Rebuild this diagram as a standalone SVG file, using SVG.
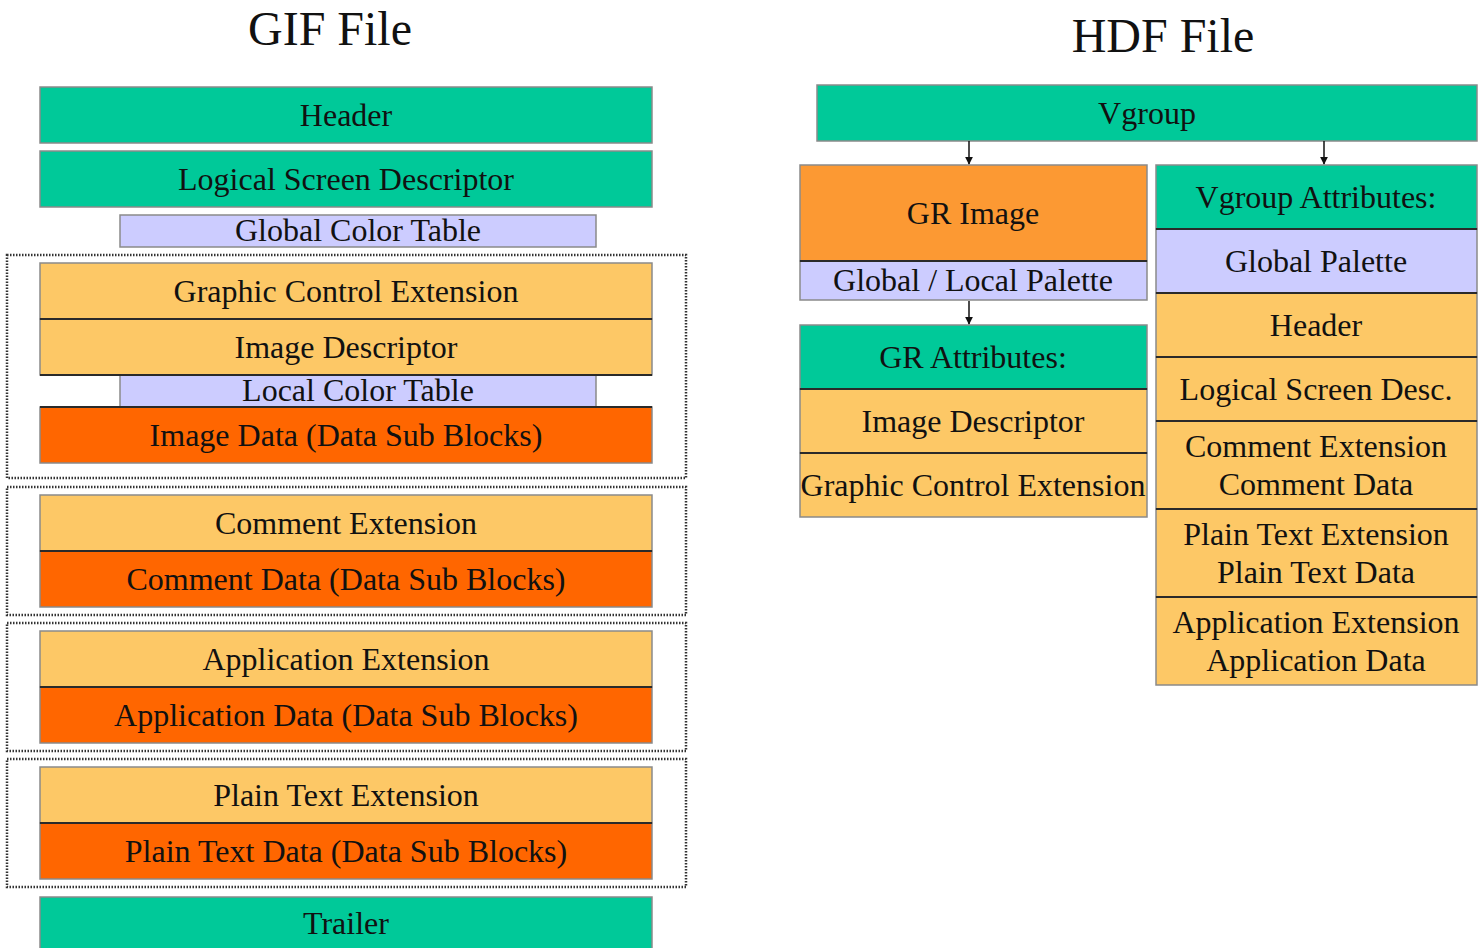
<svg xmlns="http://www.w3.org/2000/svg" width="1483" height="948" viewBox="0 0 1483 948">
<defs>
<style>
text{font-family:"Liberation Serif","Times New Roman",serif;fill:#111;text-anchor:middle}
.t{font-size:32px}
.title{font-size:48px}
.box{stroke:#8a8a8a;stroke-width:1.5}
.teal{fill:#00C999}
.gold{fill:#FDC866}
.red{fill:#FF6600}
.org{fill:#FC9933}
.lav{fill:#CCCCFF}
.sep{stroke:#2a2a2a;stroke-width:2}
.dot{fill:none;stroke:#333;stroke-width:2.5;stroke-dasharray:1.5 1.5}
.conn{stroke:#111;stroke-width:1.5;fill:none}
</style>
<marker id="ah" viewBox="0 0 10 10" refX="9" refY="5" markerWidth="8" markerHeight="8" markerUnits="userSpaceOnUse" orient="auto">
<path d="M0,0 L10,5 L0,10 z" fill="#111"/>
</marker>
</defs>
<rect width="1483" height="948" fill="#fff"/>
<text class="title" x="330" y="45">GIF File</text>
<text class="title" x="1163" y="52">HDF File</text>

<!-- GIF -->
<g id="gif-header"><rect class="box teal" x="40" y="87" width="612" height="56"/><text class="t" x="346" y="126">Header</text></g>
<g id="gif-lsd"><rect class="box teal" x="40" y="151" width="612" height="56"/><text class="t" x="346" y="190">Logical Screen Descriptor</text></g>
<g id="gif-gct"><rect class="box lav" x="120" y="215" width="476" height="32"/><text class="t" x="358" y="241">Global Color Table</text></g>

<g id="group-image">
<rect class="dot" x="7" y="255" width="679" height="223"/>
<g id="gif-gce"><rect class="box gold" x="40" y="263" width="612" height="56"/><text class="t" x="346" y="302">Graphic Control Extension</text></g>
<g id="gif-id"><rect class="box gold" x="40" y="319" width="612" height="56"/><text class="t" x="346" y="358">Image Descriptor</text></g>
<g id="gif-lct"><rect class="box lav" x="120" y="375" width="476" height="32"/><text class="t" x="358" y="401">Local Color Table</text></g>
<g id="gif-imgdata"><rect class="box red" x="40" y="407" width="612" height="56"/><text class="t" x="346" y="446">Image Data (Data Sub Blocks)</text></g>
<line class="sep" x1="40" y1="319" x2="652" y2="319"/>
<line class="sep" x1="40" y1="375" x2="652" y2="375"/>
<line class="sep" x1="40" y1="407" x2="652" y2="407"/>
</g>

<g id="group-comment">
<rect class="dot" x="7" y="487" width="679" height="128"/>
<g id="gif-ce"><rect class="box gold" x="40" y="495" width="612" height="56"/><text class="t" x="346" y="534">Comment Extension</text></g>
<g id="gif-cd"><rect class="box red" x="40" y="551" width="612" height="56"/><text class="t" x="346" y="590">Comment Data (Data Sub Blocks)</text></g>
<line class="sep" x1="40" y1="551" x2="652" y2="551"/>
</g>

<g id="group-app">
<rect class="dot" x="7" y="623" width="679" height="128"/>
<g id="gif-ae"><rect class="box gold" x="40" y="631" width="612" height="56"/><text class="t" x="346" y="670">Application Extension</text></g>
<g id="gif-ad"><rect class="box red" x="40" y="687" width="612" height="56"/><text class="t" x="346" y="726">Application Data (Data Sub Blocks)</text></g>
<line class="sep" x1="40" y1="687" x2="652" y2="687"/>
</g>

<g id="group-text">
<rect class="dot" x="7" y="759" width="679" height="128"/>
<g id="gif-pte"><rect class="box gold" x="40" y="767" width="612" height="56"/><text class="t" x="346" y="806">Plain Text Extension</text></g>
<g id="gif-ptd"><rect class="box red" x="40" y="823" width="612" height="56"/><text class="t" x="346" y="862">Plain Text Data (Data Sub Blocks)</text></g>
<line class="sep" x1="40" y1="823" x2="652" y2="823"/>
</g>

<g id="gif-trailer"><rect class="box teal" x="40" y="897" width="612" height="60"/><text class="t" x="346" y="934">Trailer</text></g>

<!-- HDF -->
<g id="hdf-vgroup"><rect class="box teal" x="817" y="85" width="660" height="56"/><text class="t" x="1147" y="124">Vgroup</text></g>

<g id="hdf-grimage">
<rect class="box org" x="800" y="165" width="347" height="96"/><text class="t" x="973" y="224">GR Image</text>
<rect class="box lav" x="800" y="261" width="347" height="39"/><text class="t" x="973" y="291">Global / Local Palette</text>
<line class="sep" x1="800" y1="261" x2="1147" y2="261"/>
</g>

<g id="hdf-grattr">
<rect class="box teal" x="800" y="325" width="347" height="64"/><text class="t" x="973" y="368">GR Attributes:</text>
<rect class="box gold" x="800" y="389" width="347" height="64"/><text class="t" x="973" y="432">Image Descriptor</text>
<rect class="box gold" x="800" y="453" width="347" height="64"/><text class="t" x="973" y="496">Graphic Control Extension</text>
<line class="sep" x1="800" y1="389" x2="1147" y2="389"/>
<line class="sep" x1="800" y1="453" x2="1147" y2="453"/>
</g>

<g id="hdf-vgattr">
<rect class="box teal" x="1156" y="165" width="321" height="64"/><text class="t" x="1316" y="208">Vgroup Attributes:</text>
<rect class="box lav" x="1156" y="229" width="321" height="64"/><text class="t" x="1316" y="272">Global Palette</text>
<rect class="box gold" x="1156" y="293" width="321" height="64"/><text class="t" x="1316" y="336">Header</text>
<rect class="box gold" x="1156" y="357" width="321" height="64"/><text class="t" x="1316" y="400">Logical Screen Desc.</text>
<rect class="box gold" x="1156" y="421" width="321" height="88"/><text class="t" x="1316" y="457">Comment Extension</text><text class="t" x="1316" y="495">Comment Data</text>
<rect class="box gold" x="1156" y="509" width="321" height="88"/><text class="t" x="1316" y="545">Plain Text Extension</text><text class="t" x="1316" y="583">Plain Text Data</text>
<rect class="box gold" x="1156" y="597" width="321" height="88"/><text class="t" x="1316" y="633">Application Extension</text><text class="t" x="1316" y="671">Application Data</text>
<line class="sep" x1="1156" y1="229" x2="1477" y2="229"/>
<line class="sep" x1="1156" y1="293" x2="1477" y2="293"/>
<line class="sep" x1="1156" y1="357" x2="1477" y2="357"/>
<line class="sep" x1="1156" y1="421" x2="1477" y2="421"/>
<line class="sep" x1="1156" y1="509" x2="1477" y2="509"/>
<line class="sep" x1="1156" y1="597" x2="1477" y2="597"/>
</g>

<g id="connectors">
<line class="conn" x1="969" y1="141" x2="969" y2="164" marker-end="url(#ah)"/>
<line class="conn" x1="1324" y1="141" x2="1324" y2="164" marker-end="url(#ah)"/>
<line class="conn" x1="969" y1="301" x2="969" y2="324" marker-end="url(#ah)"/>
</g>
</svg>
